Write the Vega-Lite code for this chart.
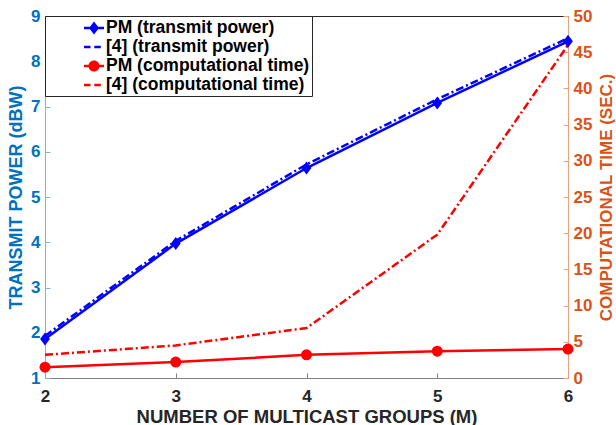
{
  "$schema": "https://vega.github.io/schema/vega-lite/v6.json",
  "width": 523,
  "height": 362,
  "autosize": {"type": "none"},
  "padding": {"left": 45, "top": 16, "right": 48, "bottom": 47},
  "background": "white",
  "config": {
    "font": "Liberation Sans",
    "view": {"stroke": "#262626", "strokeWidth": 1},
    "axis": {"grid": false, "labelFontWeight": "bold", "titleFontWeight": "bold", "labelFontSize": 17, "titleFontSize": 18, "tickSize": -5, "tickWidth": 1, "domainWidth": 1}
  },
  "data": {
    "values": [
      {"M": 2, "series": "PM (transmit power)", "value": 1.86},
      {"M": 3, "series": "PM (transmit power)", "value": 3.97},
      {"M": 4, "series": "PM (transmit power)", "value": 5.64},
      {"M": 5, "series": "PM (transmit power)", "value": 7.08},
      {"M": 6, "series": "PM (transmit power)", "value": 8.44},
      {"M": 2, "series": "[4] (transmit power)", "value": 1.93},
      {"M": 3, "series": "[4] (transmit power)", "value": 4.03},
      {"M": 4, "series": "[4] (transmit power)", "value": 5.72},
      {"M": 5, "series": "[4] (transmit power)", "value": 7.16},
      {"M": 6, "series": "[4] (transmit power)", "value": 8.51},
      {"M": 2, "series": "PM (computational time)", "value": 1.5},
      {"M": 3, "series": "PM (computational time)", "value": 2.2},
      {"M": 4, "series": "PM (computational time)", "value": 3.2},
      {"M": 5, "series": "PM (computational time)", "value": 3.7},
      {"M": 6, "series": "PM (computational time)", "value": 4.0},
      {"M": 2, "series": "[4] (computational time)", "value": 3.2},
      {"M": 3, "series": "[4] (computational time)", "value": 4.5},
      {"M": 4, "series": "[4] (computational time)", "value": 6.9},
      {"M": 5, "series": "[4] (computational time)", "value": 19.8},
      {"M": 6, "series": "[4] (computational time)", "value": 46.0}
    ]
  },
  "encoding": {
    "x": {
      "field": "M", "type": "quantitative",
      "scale": {"domain": [2, 6], "nice": false, "zero": false},
      "axis": {"values": [2, 3, 4, 5, 6], "format": "d", "title": "NUMBER OF MULTICAST GROUPS (M)", "titleFontSize": 18.5, "labelColor": "#262626", "titleColor": "#262626", "domainColor": "#808080", "tickColor": "#808080", "labelPadding": 15, "titlePadding": 3, "labelFlush": false}
    }
  },
  "layer": [
    {
      "encoding": {
        "y": {
          "field": "value", "type": "quantitative",
          "scale": {"domain": [0, 50], "nice": false, "zero": false},
          "axis": {"orient": "right", "values": [0, 5, 10, 15, 20, 25, 30, 35, 40, 45, 50], "title": "COMPUTATIONAL TIME (SEC.)", "titleFontSize": 17, "titleAngle": 270, "titleBaseline": "top", "labelColor": "#D95319", "titleColor": "#D95319", "domainColor": "#eda07e", "tickColor": "#eda07e", "labelPadding": 10, "titlePadding": 7}
        }
      },
      "layer": [
        {
          "transform": [{"filter": "datum.series === '[4] (computational time)'"}],
          "mark": {"type": "line", "color": "#FF0000", "strokeWidth": 2.5, "strokeDash": [8, 3, 2, 3]}
        },
        {
          "transform": [{"filter": "datum.series === 'PM (computational time)'"}],
          "mark": {"type": "line", "color": "#FF0000", "strokeWidth": 2.5}
        },
        {
          "transform": [{"filter": "datum.series === 'PM (computational time)'"}],
          "mark": {"type": "point", "shape": "circle", "filled": true, "size": 121, "opacity": 1},
          "encoding": {
            "color": {
              "field": "series", "type": "nominal",
              "scale": {"domain": ["PM (transmit power)", "[4] (transmit power)", "PM (computational time)", "[4] (computational time)"], "range": ["#0000FF", "#0000FF", "#FF0000", "#FF0000"]},
              "legend": {
                "title": null, "orient": "none", "legendX": 0, "legendY": 0,
                "fillColor": "white", "strokeColor": "#262626", "padding": 2, "cornerRadius": 0,
                "symbolSize": 400, "symbolOffset": 37, "labelOffset": 2, "rowPadding": 0,
                "labelFontSize": 17.5, "labelFontWeight": "bold", "labelColor": "#000000", "labelLimit": 400,
                "labelExpr": "datum.label + '\u00a0\u00a0\u00a0'",
                "symbolOpacity": 1, "symbolStrokeWidth": 0,
                "encode": {
                  "symbols": {
                    "update": {
                      "shape": {"signal": "datum.value === 'PM (transmit power)' ? 'M-1,-0.13L1,-0.13L1,0.13L-1,0.13Z M0,-0.65L0.5,0L0,0.65L-0.5,0Z' : datum.value === 'PM (computational time)' ? 'M-1,-0.13L1,-0.13L1,0.13L-1,0.13Z M-0.55,0A0.55,0.55 0 1,1 0.55,0A0.55,0.55 0 1,1 -0.55,0Z' : 'M-1,-0.13L-0.35,-0.13L-0.35,0.13L-1,0.13Z M0.03,-0.13L0.68,-0.13L0.68,0.13L0.03,0.13Z'"},
                      "opacity": {"value": 1},
                      "strokeWidth": {"value": 0}
                    }
                  }
                }
              }
            }
          }
        }
      ]
    },
    {
      "encoding": {
        "y": {
          "field": "value", "type": "quantitative",
          "scale": {"domain": [1, 9], "nice": false, "zero": false},
          "axis": {"orient": "left", "values": [1, 2, 3, 4, 5, 6, 7, 8, 9], "title": "TRANSMIT POWER (dBW)", "labelColor": "#0072BD", "titleColor": "#0072BD", "domainColor": "#7fb2de", "tickColor": "#7fb2de", "labelPadding": 10, "titlePadding": 5}
        }
      },
      "layer": [
        {
          "transform": [{"filter": "datum.series === '[4] (transmit power)'"}],
          "mark": {"type": "line", "color": "#0000FF", "strokeWidth": 2.5, "strokeDash": [8, 3, 2, 3]}
        },
        {
          "transform": [{"filter": "datum.series === 'PM (transmit power)'"}],
          "mark": {"type": "line", "color": "#0000FF", "strokeWidth": 2.5}
        },
        {
          "transform": [{"filter": "datum.series === 'PM (transmit power)'"}],
          "mark": {"type": "point", "shape": "M0,-1L0.75,0L0,1L-0.75,0Z", "filled": true, "size": 169, "opacity": 1},
          "encoding": {
            "color": {"field": "series", "type": "nominal"}
          }
        }
      ]
    }
  ],
  "resolve": {"scale": {"y": "independent"}}
}
